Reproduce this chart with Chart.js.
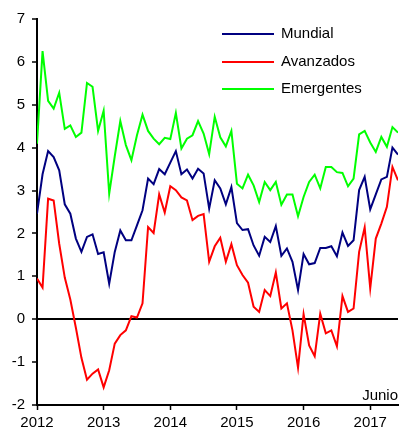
<!DOCTYPE html>
<html>
<head>
<meta charset="utf-8">
<script src="https://cdn.jsdelivr.net/npm/chart.js@4.4.1/dist/chart.umd.min.js"></script>
<style>
html, body { margin: 0; padding: 0; background: #fff; }
</style>
</head>
<body>
<canvas id="grafico" width="401" height="435"></canvas>
<script>
// monthly data, Jan 2012 - Jun 2017
var years = ['2012', '2013', '2014', '2015', '2016', '2017'];
var yTicks = [-2, -1, 0, 1, 2, 3, 4, 5, 6, 7];
var seriesNames = ['Mundial', 'Avanzados', 'Emergentes'];
var seriesColors = ['#000080', '#ff0000', '#00ff00'];

var mundial = [2.46, 3.38, 3.92, 3.78, 3.47, 2.68, 2.46, 1.88, 1.57, 1.92, 1.98, 1.52,
               1.56, 0.83, 1.57, 2.07, 1.84, 1.84, 2.19, 2.54, 3.28, 3.15, 3.50, 3.38,
               3.65, 3.92, 3.38, 3.49, 3.28, 3.51, 3.40, 2.58, 3.24, 3.05, 2.68, 3.08,
               2.24, 2.08, 2.10, 1.72, 1.48, 1.92, 1.80, 2.17, 1.48, 1.65, 1.34, 0.68,
               1.52, 1.28, 1.31, 1.66, 1.66, 1.70, 1.47, 2.02, 1.71, 1.84, 3.01, 3.32,
               2.56, 2.91, 3.26, 3.32, 4.00, 3.84];
var avanzados = [0.95, 0.74, 2.81, 2.77, 1.76, 0.97, 0.46, -0.20, -0.90, -1.41, -1.27, -1.17,
                 -1.59, -1.19, -0.57, -0.37, -0.26, 0.07, 0.04, 0.37, 2.15, 2.01, 2.91, 2.49,
                 3.10, 3.01, 2.84, 2.77, 2.31, 2.41, 2.45, 1.34, 1.70, 1.90, 1.34, 1.75,
                 1.26, 1.03, 0.85, 0.29, 0.17, 0.68, 0.54, 1.09, 0.25, 0.37, -0.26, -1.13,
                 0.12, -0.61, -0.86, 0.13, -0.33, -0.26, -0.63, 0.54, 0.17, 0.25, 1.57, 2.14,
                 0.72, 1.88, 2.23, 2.62, 3.55, 3.24];
var emergentes = [4.09, 6.25, 5.09, 4.91, 5.28, 4.44, 4.52, 4.25, 4.35, 5.51, 5.42, 4.39,
                  4.86, 2.93, 3.80, 4.62, 4.06, 3.71, 4.29, 4.77, 4.39, 4.21, 4.08, 4.23,
                  4.20, 4.81, 3.98, 4.21, 4.29, 4.62, 4.33, 3.85, 4.72, 4.24, 4.03, 4.39,
                  3.16, 3.05, 3.37, 3.12, 2.73, 3.20, 3.01, 3.20, 2.67, 2.91, 2.91, 2.40,
                  2.85, 3.20, 3.37, 3.05, 3.55, 3.55, 3.43, 3.41, 3.10, 3.28, 4.31, 4.39,
                  4.12, 3.90, 4.25, 4.02, 4.48, 4.35];
var lastLabel = 'Junio';

var fuente = '"Liberation Sans", Arial, sans-serif';

function toPoints(arr) {
    var pts = [];
    for (var i = 0; i < arr.length; i++) {
        pts.push({x: i, y: arr[i]});
    }
    return pts;
}

var allSeries = [mundial, avanzados, emergentes];
var datasets = [];
for (var s = 0; s < allSeries.length; s++) {
    datasets.push({
        label: seriesNames[s],
        data: toPoints(allSeries[s]),
        borderColor: seriesColors[s],
        backgroundColor: seriesColors[s],
        borderWidth: 2,
        pointRadius: 0,
        tension: 0,
        fill: false
    });
}

// legend lines + "Junio" note
var extras = {
    id: 'extras',
    afterDraw: function(chart) {
        var ctx = chart.ctx;
        ctx.save();
        ctx.font = '15px ' + fuente;
        ctx.fillStyle = '#000';
        ctx.textBaseline = 'middle';
        var legY = [34, 62, 89];
        for (var i = 0; i < seriesNames.length; i++) {
            ctx.strokeStyle = seriesColors[i];
            ctx.lineWidth = 2;
            ctx.beginPath();
            ctx.moveTo(222, legY[i]);
            ctx.lineTo(274, legY[i]);
            ctx.stroke();
            ctx.fillText(seriesNames[i], 281, legY[i]);
        }
        ctx.textAlign = 'right';
        ctx.textBaseline = 'alphabetic';
        ctx.fillText(lastLabel, chart.chartArea.right, chart.chartArea.bottom - 5);
        ctx.restore();
    }
};

var ctx = document.getElementById('grafico');
var chart = new Chart(ctx, {
    type: 'line',
    data: {datasets: datasets},
    plugins: [extras],
    options: {
        responsive: false,
        animation: false,
        layout: {padding: {left: 0, right: 3, top: 19, bottom: 0}},
        plugins: {legend: {display: false}, tooltip: {enabled: false}},
        scales: {
            x: {
                type: 'linear',
                min: 0,
                max: allSeries[0].length - 1,
                afterBuildTicks: function(scale) {
                    scale.ticks = years.map(function(y, i) { return {value: i * 12}; });
                },
                afterFit: function(scale) { scale.height = 30; },
                ticks: {
                    color: '#000',
                    font: {size: 15, family: fuente},
                    padding: 4,
                    maxRotation: 0,
                    callback: function(v) { return years[v / 12]; }
                },
                grid: {drawOnChartArea: false, tickColor: '#000', tickLength: 5, tickWidth: 1.5},
                border: {display: true, color: '#000', width: 2}
            },
            y: {
                min: yTicks[0],
                max: yTicks[yTicks.length - 1],
                afterBuildTicks: function(scale) {
                    scale.ticks = yTicks.map(function(v) { return {value: v}; });
                },
                afterFit: function(scale) { scale.width = 37; },
                ticks: {
                    color: '#000',
                    font: {size: 15, family: fuente},
                    padding: 7
                },
                grid: {
                    color: function(c) { return c.tick && c.tick.value === 0 ? '#000' : 'rgba(0,0,0,0)'; },
                    lineWidth: function(c) { return c.tick && c.tick.value === 0 ? 2 : 0; },
                    tickColor: '#000',
                    tickLength: 5,
                    tickWidth: 1.5
                },
                border: {display: true, color: '#000', width: 2}
            }
        }
    }
});
</script>
</body>
</html>
